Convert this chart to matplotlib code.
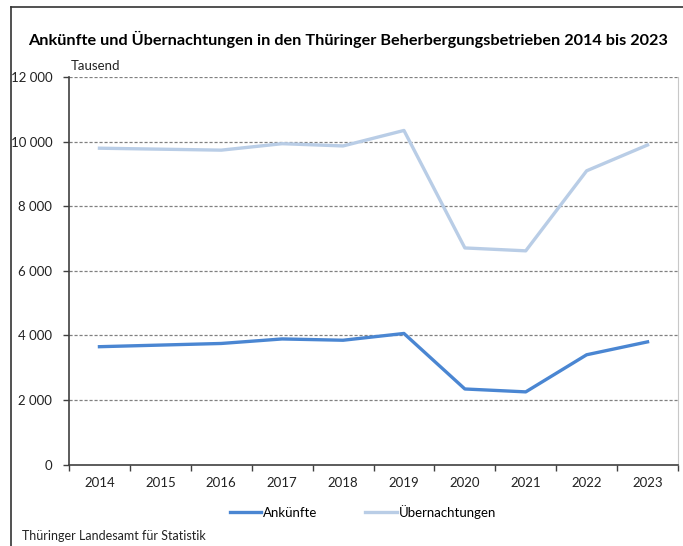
import matplotlib
matplotlib.use("Agg")
import matplotlib.pyplot as plt
from matplotlib.ticker import FuncFormatter, FixedLocator
import numpy as np

plt.rcParams['font.family'] = ['Lato', 'DejaVu Sans']

years = ['2014', '2015', '2016', '2017', '2018', '2019', '2020', '2021', '2022', '2023']
ankuenfte = [3650, 3700, 3750, 3890, 3850, 4060, 2340, 2250, 3400, 3800]
uebernachtungen = [9800, 9770, 9740, 9940, 9870, 10350, 6710, 6620, 9100, 9900]

title = 'Ankünfte und Übernachtungen in den Thüringer Beherbergungsbetrieben 2014 bis 2023'
source = 'Thüringer Landesamt für Statistik'

fig = plt.figure(figsize=(6.83, 5.46), dpi=100)
ax = fig.add_axes([69 / 683, 1 - 464.5 / 546, 609 / 683, 387.3 / 546])

x = np.arange(len(years))
ax.plot(x, ankuenfte, color='#4a86d2', lw=2.4, label='Ankünfte')
ax.plot(x, uebernachtungen, color='#b9cde6', lw=2.4, label='Übernachtungen')

ax.set_xlim(-0.5, len(years) - 0.5)
ax.set_ylim(0, 12000)
ax.set_yticks(np.arange(0, 12001, 2000))
ax.yaxis.set_major_formatter(FuncFormatter(lambda v, p: f'{int(v):,}'.replace(',', ' ')))
ax.set_xticks(x)
ax.set_xticklabels(years)
ax.xaxis.set_minor_locator(FixedLocator(np.arange(-0.5, len(years), 1.0)))
ax.tick_params(axis='x', which='major', length=0, pad=9, labelsize=9.5, colors='#222222')
ax.tick_params(axis='x', which='minor', length=4, width=1, color='#404040', direction='out')
ax.tick_params(axis='y', length=4, width=1, color='#404040', pad=8, labelsize=9.5, labelcolor='#222222')

for v in range(2000, 12001, 2000):
    ax.axhline(v, color='#808080', lw=0.9, ls=(0, (2.5, 1.5)), zorder=0)

ax.spines['top'].set_visible(False)
ax.spines['right'].set_color('#c8c8c8')
ax.spines['left'].set_color('#404040')
ax.spines['bottom'].set_color('#404040')
ax.spines['left'].set_linewidth(1.2)
ax.spines['bottom'].set_linewidth(1.2)

fig.text(348 / 683, 1 - 39 / 546, title, fontsize=11.7, fontweight='bold', va='center', ha='center')
fig.text(71 / 683, 1 - 66 / 546, 'Tausend', fontsize=9.5, va='center', ha='left', color='#222222')
fig.text(22 / 683, 1 - 536 / 546, source, fontsize=9, va='center', ha='left', color='#222222')

fig.legend(loc='center', bbox_to_anchor=(363 / 683, 1 - 512 / 546), ncol=2, frameon=False,
           fontsize=9.5, handlelength=2.4, handletextpad=0.15, columnspacing=3.6)

# frame around the figure (left and top visible)
fig.add_artist(plt.Line2D([11 / 683, 11 / 683], [0, 1 - 7 / 546], transform=fig.transFigure, color='#333333', lw=1.2))
fig.add_artist(plt.Line2D([11 / 683, 1], [1 - 7 / 546, 1 - 7 / 546], transform=fig.transFigure, color='#333333', lw=1.2))

fig.savefig('out.png', dpi=100)
